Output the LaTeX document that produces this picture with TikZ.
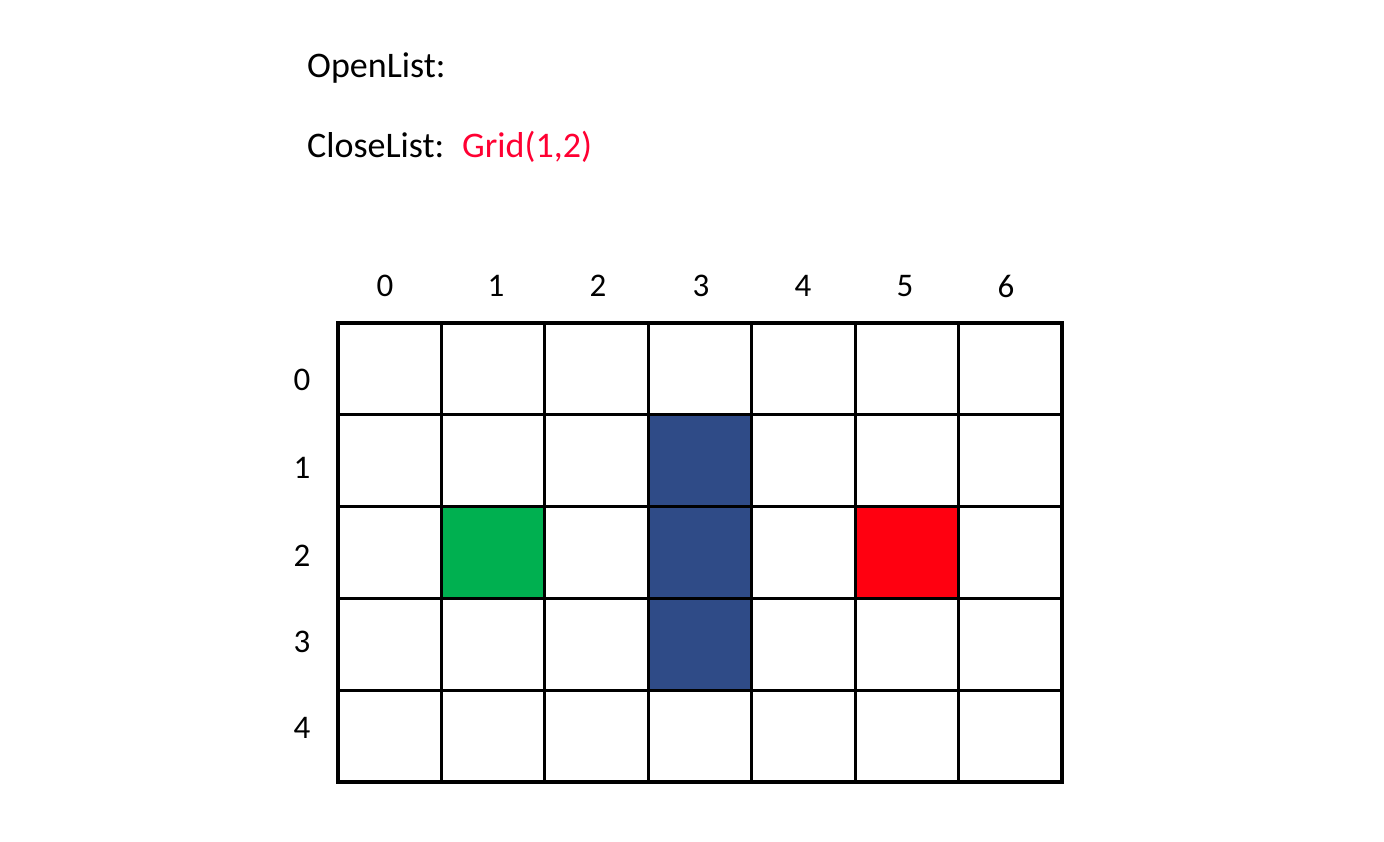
\documentclass[tikz,border=0pt]{standalone}
\usepackage{fontspec}
\setmainfont{Carlito}
\definecolor{cgreen}{RGB}{0,176,80}
\definecolor{cblue}{RGB}{47,75,135}
\definecolor{cred}{RGB}{255,0,16}
\definecolor{tred}{RGB}{255,0,50}
\begin{document}
\begin{tikzpicture}[x=1pt,y=-1pt,
  cell/.style={draw=black,line width=3.2pt,rectangle,minimum width=103.43pt,minimum height=91.8pt,inner sep=0pt,anchor=center},
  lbl/.style={font=\fontsize{33}{36}\selectfont,inner sep=0pt},
  hdr/.style={font=\fontsize{36}{40}\selectfont,inner sep=0pt}]
\useasboundingbox (0,0) rectangle (1384,842);
\node[hdr,anchor=base west] (open) at (307,78) {OpenList:};
\node[hdr,anchor=base west] (close) at (307,158) {CloseList:};
\node[hdr,anchor=base west,text=tred] (grid12) at (462,158) {Grid(1,2)};
% cells
\foreach \r in {0,...,4}{
  \foreach \c in {0,...,6}{
    \node[cell] (c-\r-\c) at ({338+103.43*(\c+0.5)},{323+91.8*(\r+0.5)}) {};
  }
}
\node[cell,fill=cgreen] (start) at (c-2-1) {};
\node[cell,fill=cred] (goal) at (c-2-5) {};
\node[cell,fill=cblue] (w1) at (c-1-3) {};
\node[cell,fill=cblue] (w2) at (c-2-3) {};
\node[cell,fill=cblue] (w3) at (c-3-3) {};
% column labels
\foreach \c/\x in {0/385,1/496,2/598,3/701,4/803,5/905,6/1006}{
  \node[lbl] (col\c) at (\x,286) {\c};
}
\foreach \r/\y in {0/380,1/468,2/556,3/642,4/728}{
  \node[lbl] (row\r) at (302,\y) {\r};
}
\end{tikzpicture}
\end{document}
